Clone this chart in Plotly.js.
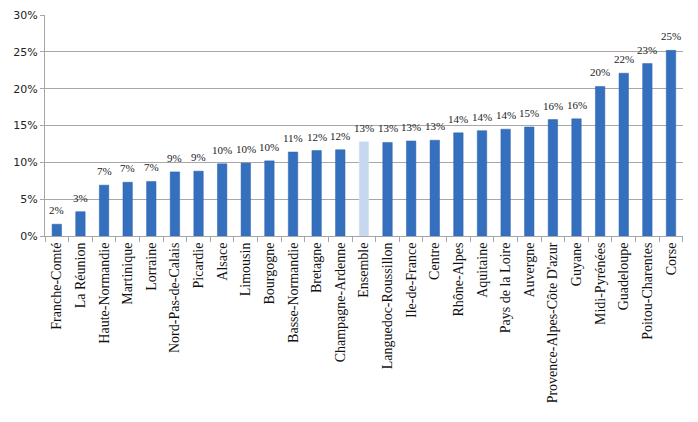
<!DOCTYPE html>
<html>
<head>
<meta charset="utf-8">
<script src="https://cdn.plot.ly/plotly-3.0.1.min.js"></script>
<style>html,body{margin:0;padding:0;background:#fff;}#chart{width:698px;height:422px;}</style>
</head>
<body>
<div id="chart"></div>
<script>
const regions = ["Franche-Comté","La Réunion","Haute-Normandie","Martinique","Lorraine","Nord-Pas-de-Calais","Picardie","Alsace","Limousin","Bourgogne","Basse-Normandie","Bretagne","Champagne-Ardenne","Ensemble","Languedoc-Roussillon","Ile-de-France","Centre","Rhône-Alpes","Aquitaine","Pays de la Loire","Auvergne","Provence-Alpes-Côte D'azur","Guyane","Midi-Pyrénées","Guadeloupe","Poitou-Charentes","Corse"];
const shares = [0.016,0.033,0.069,0.073,0.074,0.087,0.088,0.098,0.099,0.102,0.114,0.116,0.117,0.128,0.127,0.129,0.130,0.140,0.143,0.145,0.148,0.158,0.159,0.203,0.221,0.234,0.252];
const highlight = "Ensemble";

const colors = regions.map(r => r === highlight ? "#c6d7ef" : "#3470be");
const lineColors = regions.map(r => r === highlight ? "#d6e2f3" : "#2c63ad");

const trace = {
  type: "bar",
  x: regions,
  y: shares,
  marker: {color: colors, line: {color: lineColors, width: 0.5}},
  hoverinfo: "none"
};

const labels = regions.map((r, i) => ({
  x: r, y: shares[i], xref: "x", yref: "y",
  text: Math.round(shares[i] * 100) + "%",
  showarrow: false, yanchor: "bottom", yshift: 6,
  font: {family: "Liberation Serif, serif", size: 11, color: "#222"}
}));

const layout = {
  width: 698, height: 422,
  margin: {l: 45, r: 15, t: 15, b: 186},
  paper_bgcolor: "#fff", plot_bgcolor: "#fff",
  showlegend: false,
  bargap: 0.6,
  annotations: labels,
  xaxis: {
    type: "category",
    tickangle: -90,
    tickfont: {family: "Liberation Serif, serif", size: 14, color: "#111"},
    showline: true, linecolor: "#a6a6a6", linewidth: 1,
    ticks: "outside", tickson: "boundaries", ticklen: 5, tickcolor: "#a6a6a6",
    showgrid: false,
    automargin: false
  },
  yaxis: {
    range: [0, 0.30],
    dtick: 0.05,
    tickformat: ".0%",
    tickfont: {family: "DejaVu Sans, sans-serif", size: 11, color: "#222"},
    showline: true, linecolor: "#a6a6a6", linewidth: 1,
    ticks: "outside", ticklen: 4, tickcolor: "#a6a6a6",
    showgrid: true, gridcolor: "#a8a8a8", gridwidth: 1,
    zeroline: false,
    automargin: false
  }
};

Plotly.newPlot("chart", [trace], layout, {displayModeBar: false, staticPlot: true});
</script>
</body>
</html>
